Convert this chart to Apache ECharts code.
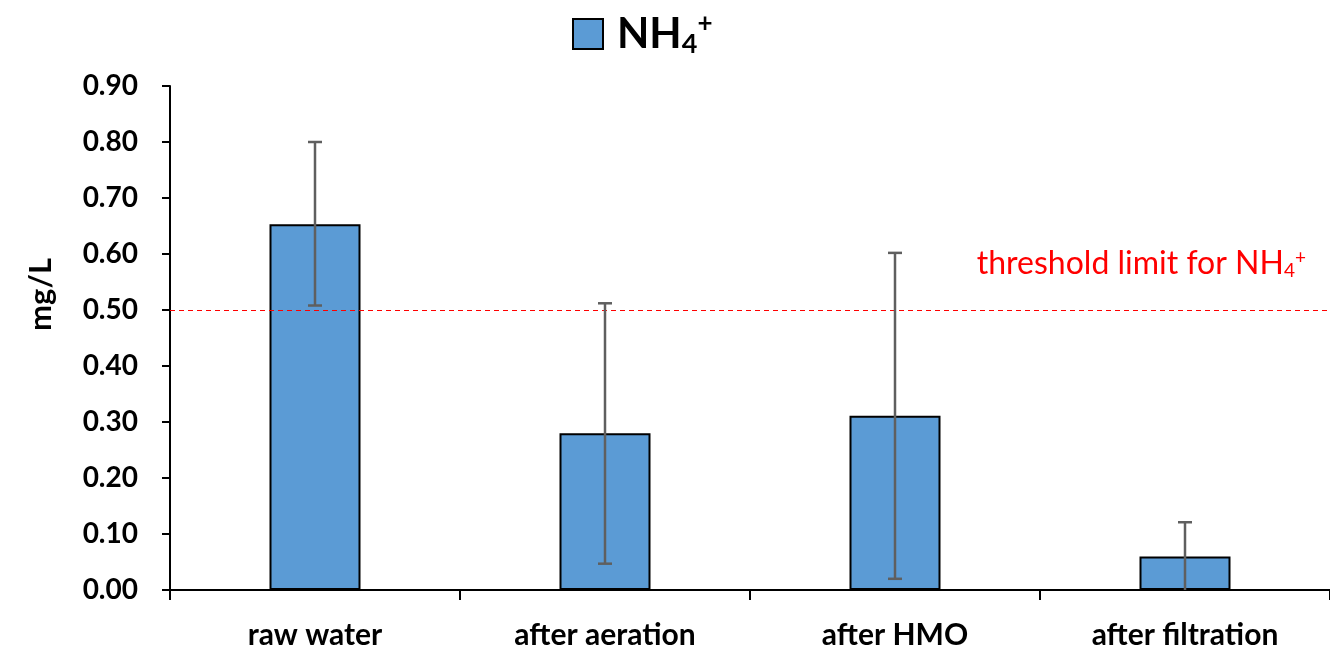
<!DOCTYPE html>
<html><head><meta charset="utf-8">
<script src="https://cdn.jsdelivr.net/npm/echarts@6/dist/echarts.min.js"></script>
<style>html,body{margin:0;padding:0;background:#fff}#c{width:1330px;height:654px}</style>
</head><body><div id="c"></div>
<script>
const categories = ['raw water', 'after aeration', 'after HMO', 'after filtration'];
const values = [0.653, 0.280, 0.311, 0.060];
const errLow = [0.508, 0.047, 0.020, 0.0];
const errHigh = [0.800, 0.512, 0.602, 0.121];
const yTicks = { min: 0, max: 0.9, interval: 0.1 };
const threshold = 0.5;

const FONT = 'Lato';
const chart = echarts.init(document.getElementById('c'));
chart.setOption({
  animation: false,
  grid: { left: 170, right: -6, top: 86, bottom: 64 },
  legend: {
    data: ['NH4+'],
    top: 6, left: 567, itemGap: 0,
    itemWidth: 30, itemHeight: 30, icon: 'rect',
    textStyle: {
      fontFamily: FONT, fontWeight: 'bold', fontSize: 42, color: '#000', padding: [0, 0, 0, 9],
      rich: {
        sub: { fontFamily: FONT, fontWeight: 'bold', fontSize: 27, color: '#000', padding: [20, 0, 0, 0] },
        sup: { fontFamily: FONT, fontWeight: 'bold', fontSize: 26, color: '#000', padding: [0, 0, 20, 0] }
      }
    },
    formatter: () => 'NH{sub|4}{sup|+}'
  },
  xAxis: {
    type: 'category', data: categories,
    axisLine: { lineStyle: { color: '#000', width: 2 } },
    axisTick: { show: true, length: 10, lineStyle: { color: '#000', width: 2 } },
    axisLabel: { fontFamily: FONT, fontWeight: 'bold', fontSize: 30, color: '#000', margin: 30 }
  },
  yAxis: {
    type: 'value', min: yTicks.min, max: yTicks.max, interval: yTicks.interval,
    axisLine: { show: true, lineStyle: { color: '#000', width: 2 } },
    axisTick: { show: true, length: 8, lineStyle: { color: '#000', width: 2 } },
    splitLine: { show: false },
    axisLabel: { fontFamily: FONT, fontWeight: 'bold', fontSize: 28, color: '#000', margin: 32,
      formatter: v => v.toFixed(2) }
  },
  graphic: [{
    type: 'text', left: 25, top: 258, rotation: Math.PI / 2,
    style: { text: 'mg/L', fontFamily: FONT, fontWeight: 'bold', fontSize: 31, fill: '#000' }
  }],
  series: [{
    name: 'NH4+', type: 'bar', data: values, barWidth: 91,
    itemStyle: { color: '#5B9BD5', borderColor: '#000', borderWidth: 2 },
    markLine: {
      silent: true, symbol: 'none',
      lineStyle: { color: '#ff0000', type: [5, 4], width: 1.2 },
      data: [{ yAxis: threshold }],
      label: {
        position: 'insideEndTop', distance: [24, 30],
        fontFamily: FONT, fontSize: 32, color: '#ff0000',
        formatter: 'threshold limit for NH{s|4}{p|+}',
        rich: {
          s: { fontFamily: FONT, fontSize: 19, color: '#ff0000', padding: [13, 0, 0, 0] },
          p: { fontFamily: FONT, fontSize: 19, color: '#ff0000', padding: [0, 0, 13, 0] }
        }
      }
    }
  }, {
    type: 'custom', name: 'err', z: 5,
    data: categories.map((c, i) => [i, errLow[i], errHigh[i]]),
    renderItem: (params, api) => {
      const lo = api.coord([api.value(0), api.value(1)]);
      const hi = api.coord([api.value(0), api.value(2)]);
      const hw = 7;
      const st = { stroke: '#5f5f5f', lineWidth: 2.5 };
      const ch = [
        { type: 'line', shape: { x1: hi[0], y1: hi[1], x2: lo[0], y2: lo[1] }, style: st },
        { type: 'line', shape: { x1: hi[0] - hw, y1: hi[1], x2: hi[0] + hw, y2: hi[1] }, style: st }
      ];
      if (api.value(1) > 0) ch.push({ type: 'line', shape: { x1: lo[0] - hw, y1: lo[1], x2: lo[0] + hw, y2: lo[1] }, style: st });
      return { type: 'group', children: ch };
    }
  }]
});
</script></body></html>
